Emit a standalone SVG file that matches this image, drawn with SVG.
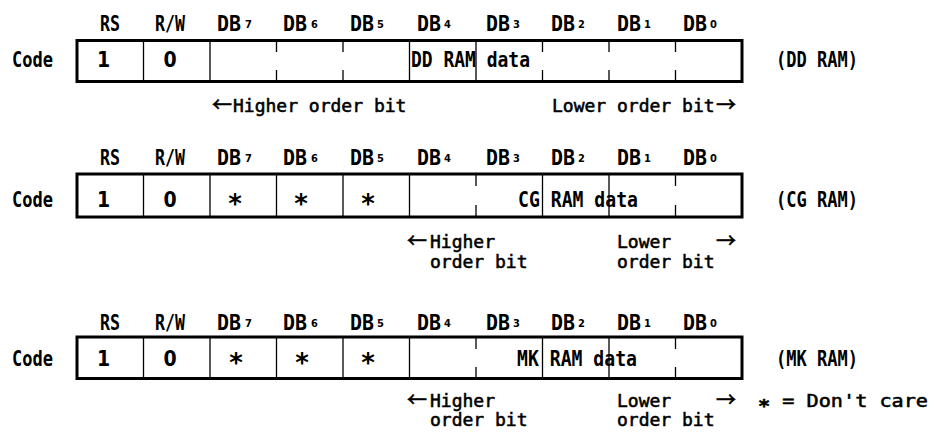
<svg xmlns="http://www.w3.org/2000/svg" width="935" height="434" viewBox="0 0 935 434">
<style>
text { font-family: "DejaVu Sans Mono", "Liberation Mono", monospace; fill: #000; }
.h { font-size: 22px; font-weight: bold; }
.v { font-size: 21px; font-weight: bold; }
.n { font-family: "DejaVu Sans Condensed", "Liberation Sans", sans-serif; font-size: 21px; font-weight: bold; }
.d { font-size: 22px; font-weight: bold; }
.l { font-size: 18px; stroke: #000; stroke-width: 0.55; }
.sub { font-family: "DejaVu Sans Condensed", "Liberation Sans", sans-serif; font-size: 11px; font-weight: bold; }
.ast { font-size: 26px; font-weight: bold; }
.arr { font-family: "Noto Sans CJK JP", "DejaVu Sans", sans-serif; font-size: 20px; }
.box { fill: #fff; stroke: #000; stroke-width: 3; }
.dv { stroke: #000; stroke-width: 1.3; fill: none; }
</style>
<rect width="935" height="434" fill="#fff"/>

<!-- Row 1: DD RAM -->
<g id="row-ddram">
  <text class="v" x="12" y="67" textLength="41" lengthAdjust="spacingAndGlyphs">Code</text>
  <g class="hdr">
    <text class="h" x="100" y="31" textLength="20" lengthAdjust="spacingAndGlyphs">RS</text>
    <text class="h" x="155" y="31" textLength="30" lengthAdjust="spacingAndGlyphs">R/W</text>
    <text class="h" x="217" y="31"><tspan textLength="24" lengthAdjust="spacingAndGlyphs">DB</tspan><tspan class="sub" x="245" dy="-3">7</tspan></text>
    <text class="h" x="283" y="31"><tspan textLength="24" lengthAdjust="spacingAndGlyphs">DB</tspan><tspan class="sub" x="311" dy="-3">6</tspan></text>
    <text class="h" x="350" y="31"><tspan textLength="24" lengthAdjust="spacingAndGlyphs">DB</tspan><tspan class="sub" x="377" dy="-3">5</tspan></text>
    <text class="h" x="417" y="31"><tspan textLength="24" lengthAdjust="spacingAndGlyphs">DB</tspan><tspan class="sub" x="444" dy="-3">4</tspan></text>
    <text class="h" x="486" y="31"><tspan textLength="24" lengthAdjust="spacingAndGlyphs">DB</tspan><tspan class="sub" x="513" dy="-3">3</tspan></text>
    <text class="h" x="551" y="31"><tspan textLength="24" lengthAdjust="spacingAndGlyphs">DB</tspan><tspan class="sub" x="578" dy="-3">2</tspan></text>
    <text class="h" x="617" y="31"><tspan textLength="24" lengthAdjust="spacingAndGlyphs">DB</tspan><tspan class="sub" x="644" dy="-3">1</tspan></text>
    <text class="h" x="683" y="31"><tspan textLength="24" lengthAdjust="spacingAndGlyphs">DB</tspan><tspan class="sub" x="710" dy="-3">0</tspan></text>
  </g>
  <rect class="box" x="77" y="40.5" width="665" height="41"/>
  <path class="dv" d="M143.5 40.5V81.5M210 40.5V81.5M409.5 40.5V81.5M476 40.5V81.5M276.5 40.5V52M276.5 70V81.5M343 40.5V52M343 70V81.5M542.5 40.5V52M542.5 70V81.5M609 40.5V52M609 70V81.5M675.5 40.5V52M675.5 70V81.5"/>
  <text class="n" x="103.5" y="67" text-anchor="middle">1</text>
  <text class="n" x="170" y="67" text-anchor="middle">0</text>
  <text class="d" x="411" y="67" textLength="119" lengthAdjust="spacingAndGlyphs">DD RAM data</text>
  <text class="d" x="776" y="67" textLength="82" lengthAdjust="spacingAndGlyphs">(DD RAM)</text>
  <text class="l" x="212" y="112"><tspan class="arr">←</tspan><tspan x="233">Higher order bit</tspan></text>
  <text class="l" x="552" y="112">Lower order bit<tspan class="arr" x="716">→</tspan></text>
</g>

<!-- Row 2: CG RAM -->
<g id="row-cgram">
  <text class="v" x="12" y="207" textLength="41" lengthAdjust="spacingAndGlyphs">Code</text>
  <g class="hdr">
    <text class="h" x="100" y="165" textLength="20" lengthAdjust="spacingAndGlyphs">RS</text>
    <text class="h" x="155" y="165" textLength="30" lengthAdjust="spacingAndGlyphs">R/W</text>
    <text class="h" x="217" y="165"><tspan textLength="24" lengthAdjust="spacingAndGlyphs">DB</tspan><tspan class="sub" x="245" dy="-3">7</tspan></text>
    <text class="h" x="283" y="165"><tspan textLength="24" lengthAdjust="spacingAndGlyphs">DB</tspan><tspan class="sub" x="311" dy="-3">6</tspan></text>
    <text class="h" x="350" y="165"><tspan textLength="24" lengthAdjust="spacingAndGlyphs">DB</tspan><tspan class="sub" x="377" dy="-3">5</tspan></text>
    <text class="h" x="417" y="165"><tspan textLength="24" lengthAdjust="spacingAndGlyphs">DB</tspan><tspan class="sub" x="444" dy="-3">4</tspan></text>
    <text class="h" x="486" y="165"><tspan textLength="24" lengthAdjust="spacingAndGlyphs">DB</tspan><tspan class="sub" x="513" dy="-3">3</tspan></text>
    <text class="h" x="551" y="165"><tspan textLength="24" lengthAdjust="spacingAndGlyphs">DB</tspan><tspan class="sub" x="578" dy="-3">2</tspan></text>
    <text class="h" x="617" y="165"><tspan textLength="24" lengthAdjust="spacingAndGlyphs">DB</tspan><tspan class="sub" x="644" dy="-3">1</tspan></text>
    <text class="h" x="683" y="165"><tspan textLength="24" lengthAdjust="spacingAndGlyphs">DB</tspan><tspan class="sub" x="710" dy="-3">0</tspan></text>
  </g>
  <rect class="box" x="77" y="174" width="665" height="43"/>
  <path class="dv" d="M143.5 174V217M210 174V217M276.5 174V217M343 174V217M409.5 174V217M542.5 174V217M609 174V217M476 174V186M476 205V217M675.5 174V186M675.5 205V217"/>
  <text class="n" x="103.5" y="207" text-anchor="middle">1</text>
  <text class="n" x="170" y="207" text-anchor="middle">0</text>
  <text class="ast" x="235" y="213" text-anchor="middle">*</text>
  <text class="ast" x="301" y="213" text-anchor="middle">*</text>
  <text class="ast" x="368" y="213" text-anchor="middle">*</text>
  <text class="d" x="518" y="207" textLength="120" lengthAdjust="spacingAndGlyphs">CG RAM data</text>
  <text class="d" x="776" y="207" textLength="82" lengthAdjust="spacingAndGlyphs">(CG RAM)</text>
  <text class="l" x="407" y="248"><tspan class="arr">←</tspan><tspan x="430">Higher</tspan><tspan x="430" y="268">order bit</tspan></text>
  <text class="l" x="617" y="248">Lower<tspan class="arr" x="716">→</tspan><tspan x="617" y="268">order bit</tspan></text>
</g>

<!-- Row 3: MK RAM -->
<g id="row-mkram">
  <text class="v" x="12" y="366" textLength="41" lengthAdjust="spacingAndGlyphs">Code</text>
  <g class="hdr">
    <text class="h" x="100" y="330" textLength="20" lengthAdjust="spacingAndGlyphs">RS</text>
    <text class="h" x="155" y="330" textLength="30" lengthAdjust="spacingAndGlyphs">R/W</text>
    <text class="h" x="217" y="330"><tspan textLength="24" lengthAdjust="spacingAndGlyphs">DB</tspan><tspan class="sub" x="245" dy="-3">7</tspan></text>
    <text class="h" x="283" y="330"><tspan textLength="24" lengthAdjust="spacingAndGlyphs">DB</tspan><tspan class="sub" x="311" dy="-3">6</tspan></text>
    <text class="h" x="350" y="330"><tspan textLength="24" lengthAdjust="spacingAndGlyphs">DB</tspan><tspan class="sub" x="377" dy="-3">5</tspan></text>
    <text class="h" x="417" y="330"><tspan textLength="24" lengthAdjust="spacingAndGlyphs">DB</tspan><tspan class="sub" x="444" dy="-3">4</tspan></text>
    <text class="h" x="486" y="330"><tspan textLength="24" lengthAdjust="spacingAndGlyphs">DB</tspan><tspan class="sub" x="513" dy="-3">3</tspan></text>
    <text class="h" x="551" y="330"><tspan textLength="24" lengthAdjust="spacingAndGlyphs">DB</tspan><tspan class="sub" x="578" dy="-3">2</tspan></text>
    <text class="h" x="617" y="330"><tspan textLength="24" lengthAdjust="spacingAndGlyphs">DB</tspan><tspan class="sub" x="644" dy="-3">1</tspan></text>
    <text class="h" x="683" y="330"><tspan textLength="24" lengthAdjust="spacingAndGlyphs">DB</tspan><tspan class="sub" x="710" dy="-3">0</tspan></text>
  </g>
  <rect class="box" x="77" y="337" width="665" height="41.5"/>
  <path class="dv" d="M143.5 337V378.5M210 337V378.5M276.5 337V378.5M343 337V378.5M409.5 337V378.5M542.5 337V378.5M609 337V378.5M476 337V349M476 367V378.5M675.5 337V349M675.5 367V378.5"/>
  <text class="n" x="103.5" y="366" text-anchor="middle">1</text>
  <text class="n" x="170" y="366" text-anchor="middle">0</text>
  <text class="ast" x="236" y="372" text-anchor="middle">*</text>
  <text class="ast" x="302" y="372" text-anchor="middle">*</text>
  <text class="ast" x="368" y="372" text-anchor="middle">*</text>
  <text class="d" x="517" y="366" textLength="120" lengthAdjust="spacingAndGlyphs">MK RAM data</text>
  <text class="d" x="776" y="366" textLength="82" lengthAdjust="spacingAndGlyphs">(MK RAM)</text>
  <text class="l" x="407" y="407"><tspan class="arr">←</tspan><tspan x="430">Higher</tspan><tspan x="430" y="426">order bit</tspan></text>
  <text class="l" x="617" y="407">Lower<tspan class="arr" x="716">→</tspan><tspan x="617" y="426">order bit</tspan></text>
</g>

<g id="legend">
  <text class="l" x="758" y="407" textLength="170" lengthAdjust="spacingAndGlyphs"><tspan dy="5" font-weight="bold">*</tspan><tspan dy="-5"> = Don't care</tspan></text>
</g>
<g id="connectors"/>
</svg>
